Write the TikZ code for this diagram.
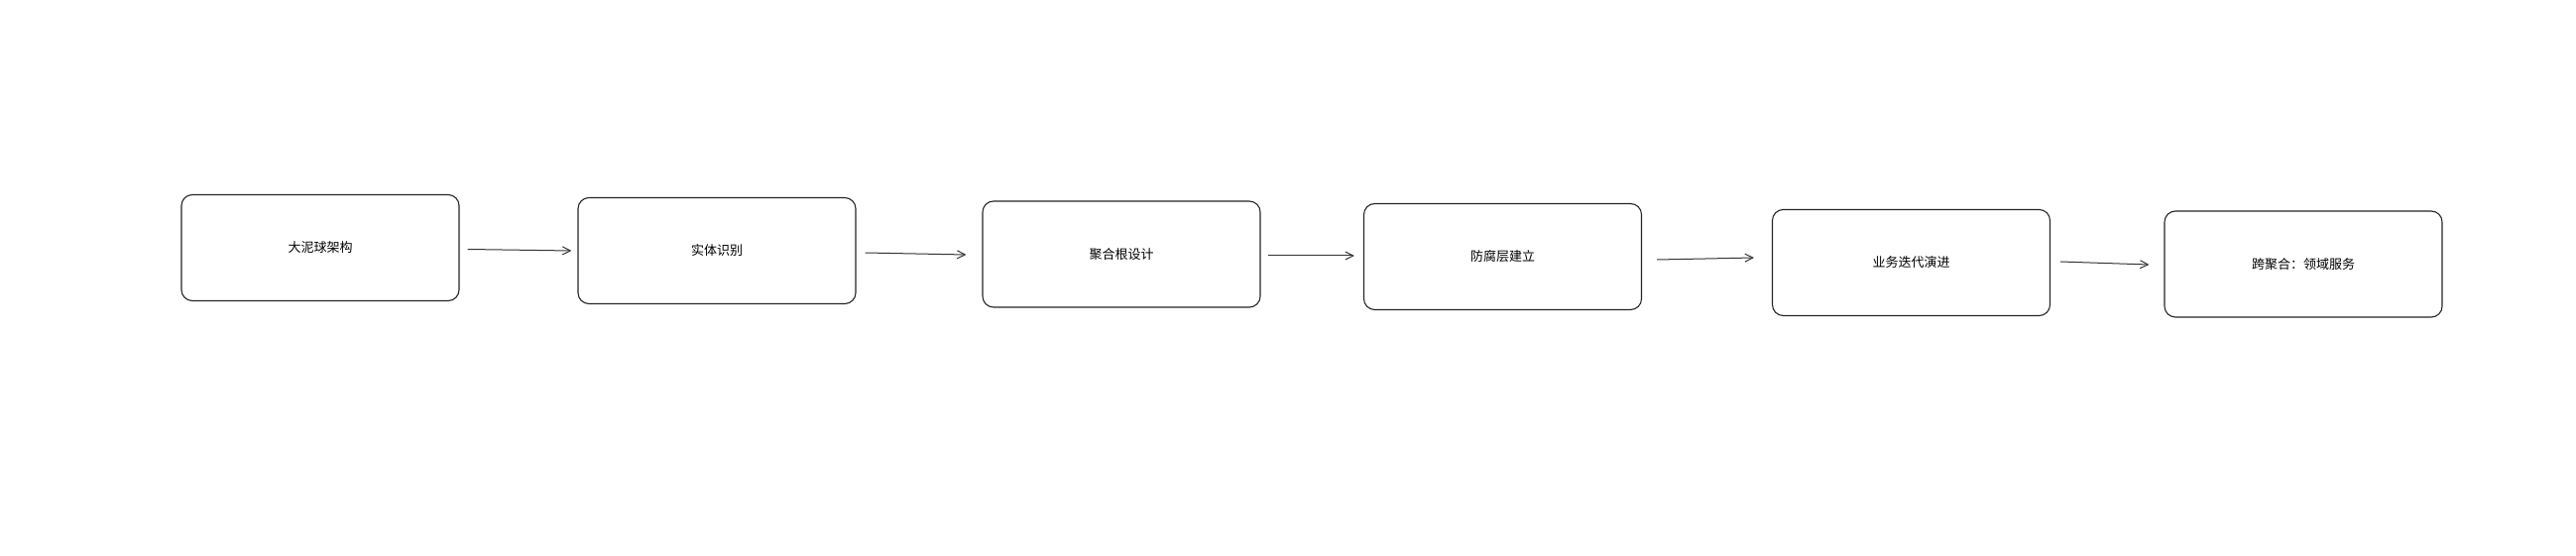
\documentclass[tikz,border=0pt]{standalone}
\usepackage{fontspec}
\setmainfont{Noto Sans CJK SC}
\usetikzlibrary{arrows.meta}
\begin{document}
\begin{tikzpicture}[x=1pt,y=1pt,
  stagebox/.style={draw=black!85, line width=1.1pt, rounded corners=11pt, minimum width=280pt, minimum height=107pt, inner sep=0pt, font=\fontsize{13}{15}\selectfont, fill=white},
  flowarrow/.style={draw=black!80, line width=1pt, -{Straight Barb[length=8pt,width=8pt,line width=1pt]}}]
\useasboundingbox (0,0) rectangle (2598,560);
\fill[white] (0,0) rectangle (2598,560);
\node[stagebox] (b1) at (323,310) {大泥球架构};
\node[stagebox] (b2) at (723,307) {实体识别};
\node[stagebox] (b3) at (1131,303.5) {聚合根设计};
\node[stagebox] (b4) at (1515.5,301) {防腐层建立};
\node[stagebox] (b5) at (1927.5,295) {业务迭代演进};
\node[stagebox] (b6) at (2323,293.5) {跨聚合：领域服务};
\draw[flowarrow] ([xshift=8pt,yshift=-1.5pt]b1.east) -- ([xshift=-6pt]b2.west);
\draw[flowarrow] ([xshift=9pt,yshift=-2pt]b2.east) -- ([xshift=-16pt,yshift=-0.5pt]b3.west);
\draw[flowarrow] ([xshift=7pt,yshift=-1.5pt]b3.east) -- ([xshift=-9pt,yshift=1pt]b4.west);
\draw[flowarrow] ([xshift=15pt,yshift=-3pt]b4.east) -- ([xshift=-18pt,yshift=5pt]b5.west);
\draw[flowarrow] ([xshift=10pt,yshift=1pt]b5.east) -- ([xshift=-15pt,yshift=-0.5pt]b6.west);
\end{tikzpicture}
\end{document}
